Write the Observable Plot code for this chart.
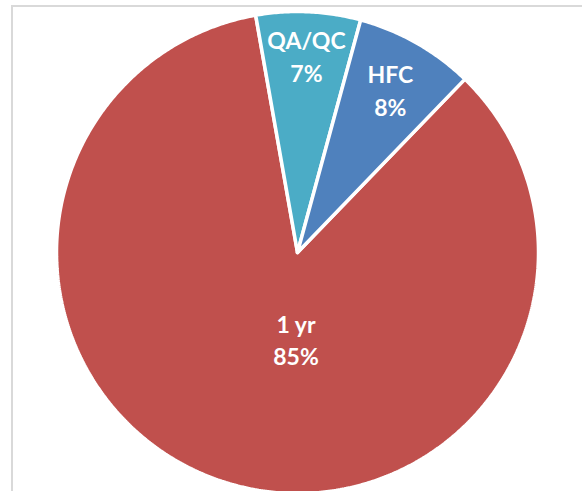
<!DOCTYPE html>
<html><head><meta charset="utf-8">
<script src="https://cdn.jsdelivr.net/npm/d3@7"></script>
<script src="https://cdn.jsdelivr.net/npm/@observablehq/plot@0.6"></script>
<style>
body{margin:0;background:#fff;}
#wrap{position:relative;width:582px;height:491px;overflow:hidden;}
#frame{position:absolute;left:11px;top:5px;width:700px;height:700px;border-top:2px solid #d9d9d9;border-left:2px solid #d9d9d9;}
#chart{position:absolute;left:0;top:0;}
</style></head><body>
<div id="wrap"><div id="frame"></div><div id="chart"></div></div>
<script>
// Data
const categories = ["1 yr", "QA/QC", "HFC"];
const values = [85, 7, 8];
const percentLabels = ["85%", "7%", "8%"];

// Style
const colors = ["#C0504D", "#4BACC6", "#4F81BD"];
const startDeg = 44;
const R = 241;
const labelPlacement = [{rFrac: 0.357, angleDeg: 181}, {rFrac: 0.82}, {rFrac: 0.78}];

const toRad = d => d * Math.PI / 180;
const arcs = d3.pie().sort(null)
  .startAngle(toRad(startDeg)).endAngle(toRad(startDeg) + 2 * Math.PI)(values);

const pts = [];
arcs.forEach((a, i) => {
  const cat = categories[i];
  pts.push({cat, x: 0, y: 0});
  const n = Math.max(2, Math.ceil((a.endAngle - a.startAngle) / toRad(0.5)));
  for (let k = 0; k <= n; k++) {
    const t = a.startAngle + (a.endAngle - a.startAngle) * k / n;
    pts.push({cat, x: R * Math.sin(t), y: R * Math.cos(t)});
  }
  pts.push({cat, x: 0, y: 0});
});

const labels = arcs.map((a, i) => {
  const p = labelPlacement[i];
  const ang = p.angleDeg != null ? toRad(p.angleDeg) : (a.startAngle + a.endAngle) / 2;
  const r = R * p.rFrac;
  return {text: categories[i] + "\n" + percentLabels[i], x: r * Math.sin(ang), y: r * Math.cos(ang)};
});

const chart = Plot.plot({
  width: 582, height: 491, margin: 0,
  axis: null,
  x: {domain: [-297, 285]},
  y: {domain: [-239, 252]},
  color: {domain: categories, range: colors},
  style: {background: "transparent"},
  marks: [
    Plot.line(pts, {x: "x", y: "y", z: "cat", fill: "cat", stroke: "white", strokeWidth: 3.5, strokeLinejoin: "miter", curve: "linear"}),
    Plot.text(labels, {x: "x", y: "y", text: "text", fill: "white", fontWeight: "bold", fontSize: 23, fontFamily: "Lato, 'Open Sans', sans-serif", lineHeight: 1.42})
  ]
});
document.getElementById("chart").appendChild(chart);
</script>
</body></html>
